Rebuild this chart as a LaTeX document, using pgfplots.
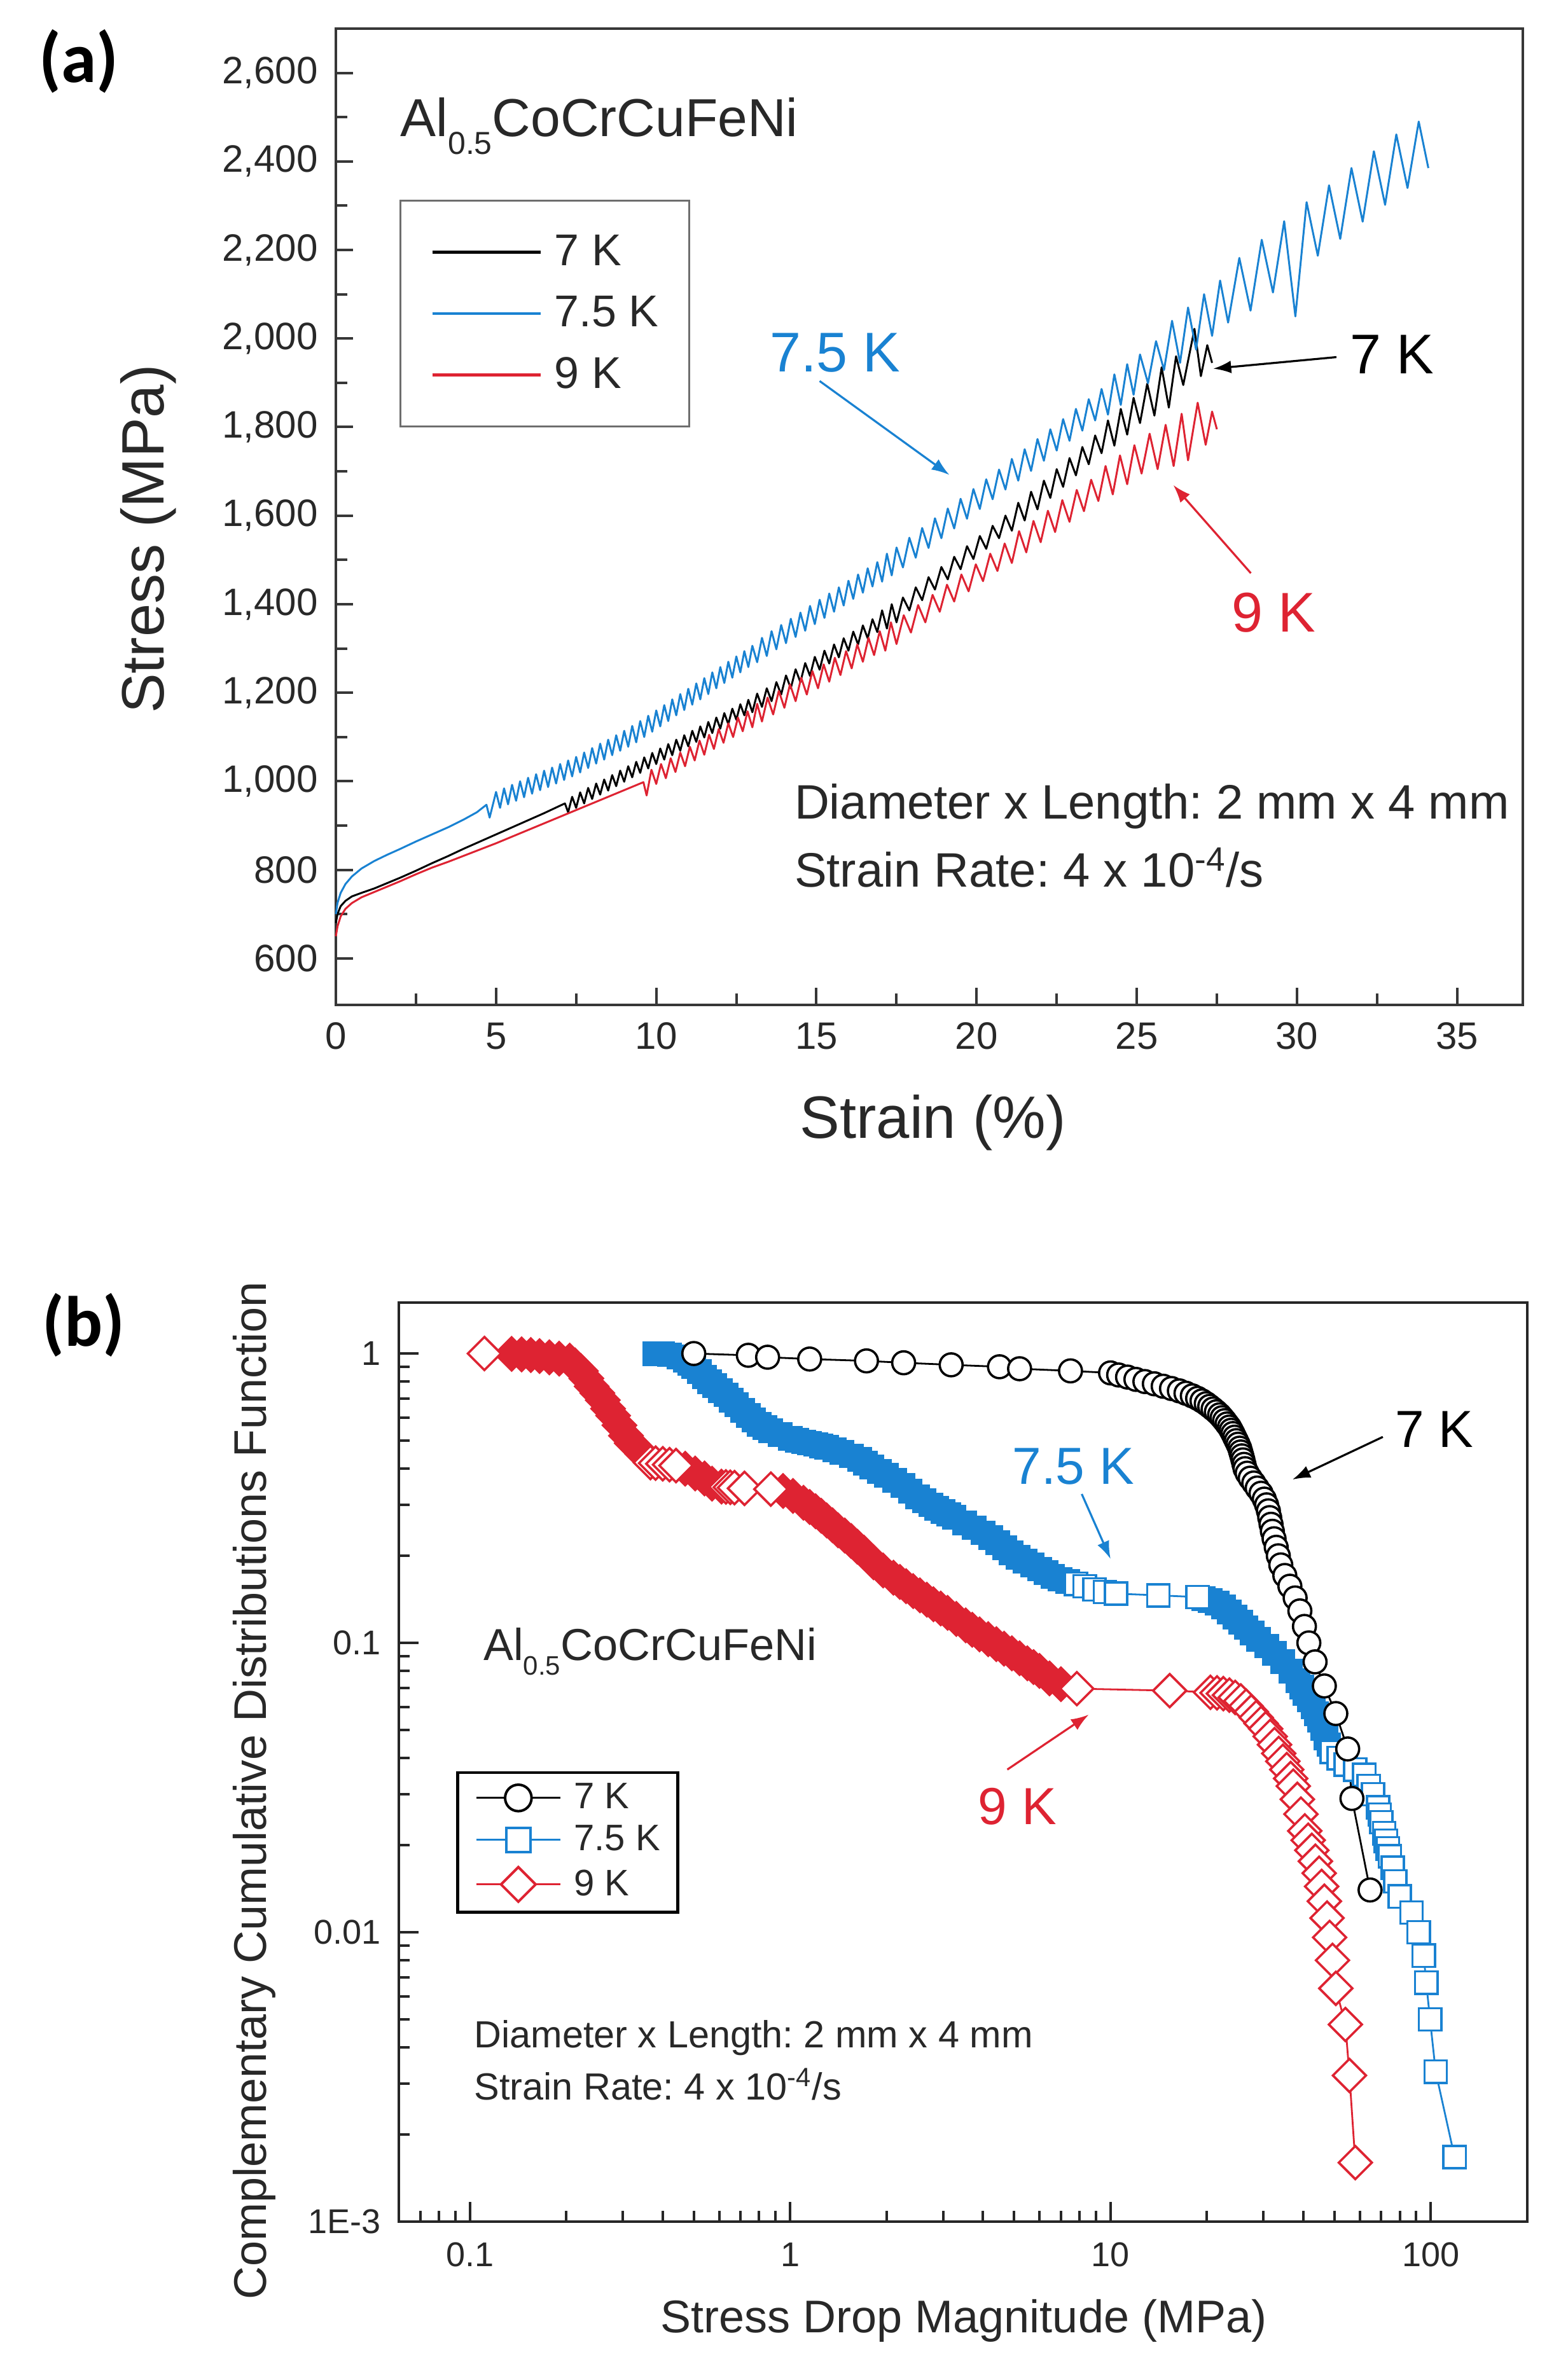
\documentclass[border=0pt]{standalone}
\usepackage{fontspec}
\setmainfont{Liberation Sans}
\newfontfamily\panelfont{Carlito}
\usepackage{pgfplots}
\pgfplotsset{compat=1.18}
\usepackage{pgfplotstable}
\usetikzlibrary{arrows.meta}
\definecolor{blue7}{RGB}{25,130,210}
\definecolor{red9}{RGB}{222,35,50}
\definecolor{axisgray}{RGB}{55,55,55}
\definecolor{textgray}{RGB}{40,40,40}
\definecolor{legendgray}{RGB}{110,110,110}

% ---------------- panel (a): stress-strain ----------------
\pgfplotstableread{
x y
0 700
0.05 725
0.15 748
0.3 768
0.5 785
0.8 803
1.2 820
1.6 834
2 847
2.5 864
3 880
3.5 896
4 914
4.4 930
4.7 947
4.8 918
5.0 976
5.125 940
5.25 984
5.375 948
5.5 992
5.625 956
5.75 1000
5.875 964
6.0 1008
6.125 972
6.25 1016
6.375 980
6.5 1024
6.625 987
6.75 1031
6.875 995
7.0 1039
7.125 1003
7.25 1047
7.375 1011
7.5 1055
7.625 1020
7.75 1065
7.875 1030
8.0 1075
8.125 1040
8.25 1085
8.375 1049
8.5 1094
8.625 1059
8.75 1104
8.875 1069
9.0 1114
9.125 1078
9.25 1125
9.375 1088
9.5 1136
9.625 1100
9.75 1148
9.875 1112
10.0 1160
10.125 1124
10.25 1172
10.375 1136
10.5 1185
10.625 1149
10.75 1197
10.875 1161
11.0 1209
11.125 1173
11.25 1221
11.375 1185
11.5 1233
11.625 1197
11.75 1246
11.875 1210
12.0 1258
12.125 1222
12.25 1270
12.375 1234
12.5 1282
12.625 1246
12.75 1294
12.875 1258
13.0 1306
13.15 1269
13.3 1324
13.45 1283
13.6 1339
13.75 1298
13.9 1353
14.05 1312
14.2 1367
14.35 1326
14.5 1381
14.65 1340
14.8 1396
14.95 1355
15.1 1410
15.25 1369
15.4 1424
15.55 1383
15.7 1438
15.85 1397
16.0 1453
16.15 1412
16.3 1467
16.45 1426
16.6 1481
16.75 1440
16.9 1495
17.05 1451
17.2 1514
17.35 1465
17.5 1528
17.7 1483
17.9 1550
18.1 1505
18.3 1572
18.5 1527
18.7 1594
18.9 1549
19.1 1616
19.3 1571
19.5 1638
19.7 1593
19.9 1660
20.1 1615
20.3 1682
20.5 1637
20.7 1704
20.9 1659
21.1 1728
21.3 1679
21.5 1750
21.7 1701
21.9 1773
22.1 1724
22.3 1795
22.5 1747
22.7 1818
22.9 1769
23.1 1841
23.3 1792
23.5 1863
23.7 1815
23.9 1886
24.1 1828
24.3 1919
24.5 1850
24.7 1942
24.9 1873
25.1 1964
25.35 1899
25.6 1994
25.85 1929
26.1 2040
26.35 1945
26.6 2070
26.85 1975
27.1 2100
27.35 2006
27.6 2131
27.85 2036
28.2 2182
28.55 2063
28.9 2223
29.25 2104
29.6 2265
29.95 2050
30.3 2308
30.65 2187
31.0 2346
31.35 2225
31.7 2385
32.05 2264
32.4 2423
32.75 2302
33.1 2461
33.45 2340
33.8 2490
34.1 2385
}\strainBlue

\pgfplotstableread{
x y
0 680
0.05 700
0.15 718
0.3 730
0.5 740
0.8 748
1.2 758
1.6 770
2 782
2.5 798
3 815
3.5 831
4 848
4.5 864
5 880
5.5 896
6 912
6.5 928
7 945
7.15 950
7.25 930
7.375 965
7.5 940
7.625 975
7.75 950
7.875 985
8.0 960
8.125 995
8.25 970
8.375 1004
8.5 979
8.625 1014
8.75 989
8.875 1024
9.0 999
9.125 1034
9.25 1009
9.375 1044
9.5 1019
9.625 1054
9.75 1029
9.875 1064
10.0 1039
10.125 1074
10.25 1049
10.375 1084
10.5 1059
10.625 1094
10.75 1069
10.875 1104
11.0 1079
11.125 1114
11.25 1089
11.375 1124
11.5 1099
11.625 1134
11.75 1109
11.875 1144
12.0 1119
12.125 1154
12.25 1129
12.375 1164
12.5 1139
12.625 1174
12.75 1149
12.875 1184
13.0 1156
13.15 1198
13.3 1168
13.45 1210
13.6 1181
13.75 1224
13.9 1196
14.05 1239
14.2 1210
14.35 1253
14.5 1224
14.65 1267
14.8 1238
14.95 1281
15.1 1252
15.25 1295
15.4 1266
15.55 1309
15.7 1280
15.85 1323
16.0 1295
16.15 1338
16.3 1309
16.45 1352
16.6 1323
16.75 1366
16.9 1337
17.05 1386
17.2 1345
17.35 1400
17.5 1359
17.7 1415
17.9 1386
18.1 1438
18.3 1409
18.5 1461
18.7 1433
18.9 1484
19.1 1456
19.3 1507
19.5 1479
19.7 1531
19.9 1502
20.1 1554
20.3 1525
20.5 1577
20.7 1549
20.9 1600
21.1 1566
21.3 1629
21.5 1589
21.7 1654
21.9 1614
22.1 1679
22.3 1640
22.5 1705
22.7 1665
22.9 1730
23.1 1691
23.3 1755
23.5 1716
23.7 1781
23.9 1741
24.1 1815
24.3 1758
24.5 1841
24.7 1783
24.9 1866
25.1 1809
25.325 1898
25.55 1826
25.775 1935
26.0 1844
26.225 1960
26.45 1895
26.8 2022
27.0 1915
27.2 1985
27.35 1945
}\strainBlack

\pgfplotstableread{
x y
0 650
0.05 672
0.15 695
0.3 712
0.5 725
0.8 738
1.2 750
1.6 762
2 774
2.5 790
3 805
3.5 818
4 832
4.5 846
5 860
5.5 875
6 890
6.5 905
7 920
7.5 935
8 950
8.5 965
9 980
9.5 995
9.6 998
9.7 968
9.85 1026
10.0 994
10.15 1039
10.3 1007
10.45 1052
10.6 1021
10.75 1065
10.9 1034
11.05 1078
11.2 1047
11.35 1092
11.5 1060
11.65 1105
11.8 1073
11.95 1118
12.1 1087
12.25 1131
12.4 1100
12.55 1144
12.7 1113
12.85 1158
13.0 1122
13.15 1175
13.3 1135
13.475 1189
13.65 1151
13.825 1204
14.0 1166
14.175 1219
14.35 1181
14.525 1234
14.7 1196
14.875 1249
15.05 1210
15.225 1264
15.4 1225
15.575 1279
15.75 1240
15.925 1294
16.1 1255
16.275 1309
16.45 1270
16.625 1324
16.8 1285
16.975 1339
17.15 1295
17.325 1359
17.5 1310
17.725 1375
17.95 1336
18.175 1398
18.4 1359
18.625 1421
18.85 1383
19.075 1444
19.3 1406
19.525 1467
19.75 1429
19.975 1490
20.2 1452
20.425 1514
20.65 1475
20.875 1537
21.1 1493
21.325 1565
21.55 1517
21.775 1588
22.0 1540
22.225 1611
22.45 1563
22.675 1635
22.9 1586
23.125 1658
23.35 1610
23.575 1681
23.8 1633
24.025 1712
24.25 1648
24.475 1736
24.7 1671
24.925 1759
25.15 1695
25.4 1785
25.65 1705
25.9 1805
26.15 1712
26.4 1830
26.6 1725
26.9 1855
27.15 1760
27.35 1835
27.5 1795
}\strainRed

% ---------------- panel (b): CCDF (d=1: dense band) ----------------
\pgfplotstableread{
x y
0.50 1.000
0.74 0.986
0.85 0.971
1.15 0.957
1.73 0.943
2.26 0.929
3.18 0.914
4.5 0.900
5.2 0.886
7.5 0.871
10.0 0.857
10.6 0.843
11.3 0.829
12.0 0.814
12.8 0.800
13.7 0.786
14.6 0.771
15.5 0.757
16.4 0.743
17.2 0.729
18.0 0.714
18.7 0.700
19.3 0.686
19.9 0.671
20.4 0.657
20.9 0.643
21.4 0.629
21.9 0.614
22.3 0.600
22.7 0.586
23.1 0.571
23.5 0.557
23.8 0.543
24.1 0.529
24.4 0.514
24.7 0.500
25.0 0.486
25.3 0.471
25.5 0.457
25.7 0.443
25.9 0.429
26.1 0.414
26.3 0.400
26.7 0.386
27.3 0.371
28.0 0.357
28.7 0.343
29.5 0.329
30.2 0.314
30.7 0.300
31.1 0.286
31.4 0.271
31.7 0.257
32.0 0.243
32.4 0.229
32.9 0.214
33.4 0.200
34.0 0.186
35.0 0.171
36.3 0.157
37.7 0.143
39.0 0.129
40.3 0.114
41.6 0.100
43.5 0.086
46.5 0.071
50.5 0.057
55.0 0.043
56.7 0.029
64.6 0.014
}\ccdfBlack

\pgfplotstableread{
x y d
0.378 1.000 1
0.400 0.998 1
0.420 0.990 1
0.450 0.975 1
0.470 0.950 1
0.485 0.925 1
0.500 0.900 1
0.520 0.865 1
0.540 0.830 1
0.560 0.800 1
0.580 0.775 1
0.605 0.745 1
0.630 0.720 1
0.655 0.690 1
0.680 0.665 1
0.710 0.635 1
0.740 0.610 1
0.770 0.590 1
0.800 0.570 1
0.835 0.555 1
0.870 0.540 1
0.930 0.525 1
1.000 0.510 1
1.050 0.502 1
1.100 0.495 1
1.150 0.490 1
1.200 0.485 1
1.250 0.480 1
1.300 0.475 1
1.375 0.465 1
1.450 0.455 1
1.550 0.443 1
1.650 0.430 1
1.720 0.418 1
1.800 0.405 1
1.900 0.392 1
2.000 0.380 1
2.120 0.365 1
2.250 0.350 1
2.370 0.335 1
2.500 0.320 1
2.620 0.310 1
2.750 0.300 1
2.870 0.292 1
3.000 0.285 1
3.120 0.278 1
3.250 0.272 1
3.500 0.260 1
3.750 0.250 1
4.000 0.240 1
4.220 0.231 1
4.450 0.222 1
4.670 0.213 1
4.900 0.205 1
5.150 0.198 1
5.400 0.192 1
5.700 0.186 1
6.000 0.180 1
6.300 0.175 1
6.600 0.170 1
6.950 0.166 1
7.360 0.163 1
7.8 0.160 0
8.3 0.157 0
8.9 0.153 0
9.6 0.150 0
10.4 0.148 0
14.1 0.146 0
18.7 0.144 0
19.5 0.142 1
20.5 0.140 1
21.5 0.137 1
22.5 0.133 1
23.5 0.128 1
24.5 0.123 1
25.5 0.118 1
26.5 0.113 1
27.7 0.108 1
29.0 0.103 1
30.8 0.0975 1
32.5 0.092 1
34.5 0.086 1
36.5 0.080 1
38.5 0.074 1
39.5 0.0705 1
40.5 0.067 1
41.7 0.0635 1
43.0 0.060 1
44.0 0.057 1
45.0 0.054 1
46.0 0.0505 1
47.0 0.047 1
48.0 0.0445 1
49.0 0.042 0
51.5 0.040 0
54.3 0.038 0
58.0 0.0365 0
62.0 0.035 0
64.0 0.032 0
66.0 0.030 0
68.5 0.027 0
69.2 0.0255 0
70.0 0.024 0
71.5 0.022 0
72.4 0.0207 0
73.4 0.0195 0
74.5 0.0183 0
76.0 0.0167 0
77.5 0.0150 0
80.0 0.0133 0
87.0 0.0117 0
91.6 0.0100 0
95.0 0.0083 0
96.7 0.0067 0
99.4 0.0050 0
103.5 0.0033 0
118.6 0.00167 0
}\ccdfBlue

\pgfplotstableread{
x y d
0.111 1.000 0
0.135 0.997 1
0.145 0.993 1
0.155 0.988 1
0.165 0.980 1
0.177 0.970 1
0.190 0.960 1
0.205 0.945 1
0.213 0.910 1
0.222 0.870 1
0.231 0.820 1
0.240 0.770 1
0.250 0.730 1
0.260 0.690 1
0.270 0.645 1
0.280 0.610 1
0.293 0.565 1
0.307 0.520 1
0.320 0.490 1
0.330 0.475 1
0.345 0.450 1
0.366 0.420 0
0.380 0.418 0
0.400 0.416 0
0.420 0.413 0
0.440 0.410 0
0.470 0.400 1
0.505 0.385 1
0.540 0.370 1
0.570 0.355 1
0.610 0.347 1
0.630 0.346 0
0.650 0.345 0
0.670 0.344 0
0.720 0.342 0
0.870 0.340 0
0.950 0.335 1
1.020 0.322 1
1.100 0.305 1
1.150 0.295 1
1.200 0.285 1
1.250 0.275 1
1.300 0.265 1
1.355 0.255 1
1.410 0.245 1
1.480 0.235 1
1.550 0.225 1
1.620 0.215 1
1.700 0.205 1
1.820 0.190 1
1.950 0.178 1
2.100 0.168 1
2.200 0.1625 1
2.300 0.157 1
2.420 0.151 1
2.540 0.146 1
2.670 0.141 1
2.800 0.136 1
2.950 0.1315 1
3.100 0.127 1
3.300 0.121 1
3.530 0.115 1
3.700 0.111 1
3.900 0.107 1
4.150 0.103 1
4.400 0.099 1
4.650 0.0955 1
4.920 0.092 1
5.200 0.0885 1
5.500 0.085 1
5.750 0.0825 1
6.000 0.080 1
6.450 0.0754 1
7.000 0.072 1
7.850 0.0695 0
15.30 0.0684 0
20.50 0.0675 0
21.50 0.0672 0
22.50 0.0668 0
23.50 0.0660 0
24.50 0.0648 0
25.50 0.0630 0
26.50 0.0605 0
27.50 0.0578 0
28.50 0.0552 0
29.50 0.0527 0
30.50 0.0505 0
31.50 0.0475 0
32.50 0.0445 0
33.50 0.0415 0
34.50 0.0390 0
35.50 0.0365 0
36.50 0.0340 0
37.20 0.0320 0
38.30 0.0288 0
39.30 0.0256 0
40.40 0.0224 0
41.40 0.0208 0
42.50 0.0192 0
43.60 0.0176 0
44.80 0.0160 0
45.60 0.0144 0
46.50 0.0128 0
47.40 0.0112 0
48.30 0.0096 0
49.30 0.0080 0
50.50 0.0064 0
54.10 0.0048 0
55.70 0.0032 0
58.10 0.0016 0
}\ccdfRed

\begin{document}
\frenchspacing
\begin{tikzpicture}
\useasboundingbox (0,0) rectangle (610.5pt,935.5pt);
\fill[white] (0,0) rectangle (610.5pt,935.5pt);

% ================= (a) =================
\begin{axis}[
  at={(132pt,540.5pt)}, anchor=south west,
  width=466.5pt, height=383.75pt, scale only axis,
  clip=false,
  xmin=0, xmax=37.05, ymin=495, ymax=2700,
  xtick={0,5,...,35}, ytick={600,800,...,2600},
  minor x tick num=1, minor y tick num=1,
  xtick pos=bottom, ytick pos=left, tick align=inside,
  major tick length=6.75pt, minor tick length=4.5pt,
  axis line style={line width=1.2pt, color=axisgray},
  tick style={line width=1pt, color=axisgray},
  scaled y ticks=false,
  /pgf/number format/assume math mode=true,
  /pgf/number format/fixed,
  /pgf/number format/1000 sep={,},
  tick label style={font=\fontsize{15}{18}\selectfont, text=textgray},
  xticklabel style={yshift=-3.5pt},
  yticklabel style={xshift=-3.6pt},
  xlabel={Strain (\%)}, ylabel={Stress (MPa)},
  xlabel style={at={(axis description cs:0.503,-0.1205)}, anchor=center, font=\fontsize{23.5}{28}\selectfont, text=textgray},
  ylabel style={at={(axis description cs:-0.158,0.477)}, anchor=center, font=\fontsize{23.5}{28}\selectfont, text=textgray},
  legend style={at={(0.176,0.708)}, anchor=center, draw=legendgray, line width=0.75pt, fill=white,
    inner xsep=12pt, inner ysep=13.5pt, row sep=10.5pt, column sep=5pt,
    font=\fontsize{17.5}{20}\selectfont, nodes={inner sep=0pt, text=textgray}},
  legend cell align=left,
  legend image code/.code={\draw[#1, line width=1.1pt] (0pt,0pt) -- (42.5pt,0pt);},
]
\addplot[black, line width=0.75pt, line join=round] table[x=x,y=y] \strainBlack;
\addlegendentry{7 K}
\addplot[blue7, line width=0.75pt, line join=round] table[x=x,y=y] \strainBlue;
\addlegendentry{7.5 K}
\addplot[red9, line width=0.75pt, line join=round] table[x=x,y=y] \strainRed;
\addlegendentry{9 K}

\node[inner sep=0pt, anchor=base west, font=\fontsize{21}{25}\selectfont, text=textgray] at (axis cs:2.0,2456)
  {Al\raisebox{-0.33em}{\fontsize{12.5}{13}\selectfont 0.5}CoCrCuFeNi};
\node[inner sep=0pt, anchor=base west, font=\fontsize{22}{26}\selectfont, text=blue7] at (axis cs:13.53,1925) {7.5 K};
\draw[blue7, line width=0.8pt, -{Latex[length=7pt,width=5pt]}] (axis cs:15.10,1904) -- (axis cs:19.15,1692);
\node[inner sep=0pt, anchor=base west, font=\fontsize{22}{26}\selectfont, text=black] at (axis cs:31.64,1921) {7 K};
\draw[black, line width=0.8pt, -{Latex[length=7pt,width=5pt]}] (axis cs:31.23,1958) -- (axis cs:27.39,1932);
\node[inner sep=0pt, anchor=base west, font=\fontsize{22}{26}\selectfont, text=red9] at (axis cs:27.95,1338) {9 K};
\draw[red9, line width=0.8pt, -{Latex[length=7pt,width=5pt]}] (axis cs:28.56,1470) -- (axis cs:26.14,1669);
\node[inner sep=0pt, anchor=base west, font=\fontsize{19}{23}\selectfont, text=textgray] at (axis cs:14.3,915) {Diameter x Length: 2 mm x 4 mm};
\node[inner sep=0pt, anchor=base west, font=\fontsize{19}{23}\selectfont, text=textgray] at (axis cs:14.3,761) {Strain Rate: 4 x 10\textsuperscript{-4}/s};
\end{axis}

% ================= (b) =================
\begin{axis}[
  at={(156.75pt,62.25pt)}, anchor=south west,
  width=443.5pt, height=361.25pt, scale only axis,
  clip=false,
  xmode=log, ymode=log,
  xmin=0.06, xmax=200, ymin=0.001, ymax=1.5,
  xtick={0.1,1,10,100}, xticklabels={0.1,1,10,100},
  ytick={0.001,0.01,0.1,1}, yticklabels={1E-3,0.01,0.1,1},
  minor xtick={0.07,0.08,0.09,0.2,0.3,0.4,0.5,0.6,0.7,0.8,0.9,2,3,4,5,6,7,8,9,20,30,40,50,60,70,80,90},
  minor ytick={0.002,0.003,0.004,0.005,0.006,0.007,0.008,0.009,0.02,0.03,0.04,0.05,0.06,0.07,0.08,0.09,0.2,0.3,0.4,0.5,0.6,0.7,0.8,0.9},
  xtick pos=bottom, ytick pos=left, tick align=inside,
  major tick length=7.8pt, minor tick length=4.2pt,
  axis line style={line width=1.2pt, color=black!85},
  tick style={line width=1pt, color=black!85},
  tick label style={font=\fontsize{13.5}{16}\selectfont, text=textgray},
  xticklabel style={yshift=-4.7pt},
  yticklabel style={xshift=-3.5pt},
  xlabel={Stress Drop Magnitude (MPa)},
  ylabel={Complementary Cumulative Distributions Function},
  xlabel style={at={(axis description cs:0.5006,-0.108)}, anchor=center, font=\fontsize{18}{22}\selectfont, text=textgray},
  ylabel style={at={(axis description cs:-0.128,0.469)}, anchor=center, font=\fontsize{18}{22}\selectfont, text=textgray},
  legend style={at={(0.1497,0.4125)}, anchor=center, draw=black, line width=1.2pt, fill=white,
    inner xsep=7pt, inner ysep=4.2pt, row sep=5pt, column sep=5pt,
    font=\fontsize{14.5}{17}\selectfont, nodes={inner sep=0pt, text=textgray}},
  legend cell align=left,
  legend image code/.code={\draw[mark repeat=2,mark phase=2,#1] plot coordinates {(0pt,0pt) (16.5pt,0pt) (33pt,0pt)};},
]
% blue 7.5 K
\addplot[blue7, line width=0.7pt, forget plot] table[x=x,y=y] \ccdfBlue;
\addplot[blue7, only marks, mark=square*, mark size=4.4pt, mark options={line width=0.9pt, fill=blue7}, forget plot,
  restrict expr to domain={\thisrow{d}}{0.5:1.5}] table[x=x,y=y] \ccdfBlue;
\addplot[blue7, only marks, mark=square*, mark size=4.4pt, mark options={line width=0.9pt, fill=white}, forget plot,
  restrict expr to domain={\thisrow{d}}{-0.5:0.5}] table[x=x,y=y] \ccdfBlue;
% red 9 K
\addplot[red9, line width=0.7pt, forget plot] table[x=x,y=y] \ccdfRed;
\addplot[red9, only marks, mark=square*, mark size=4.6pt, mark options={rotate=45, line width=0.9pt, fill=red9}, forget plot,
  restrict expr to domain={\thisrow{d}}{0.5:1.5}] table[x=x,y=y] \ccdfRed;
\addplot[red9, only marks, mark=square*, mark size=4.6pt, mark options={rotate=45, line width=0.9pt, fill=white}, forget plot,
  restrict expr to domain={\thisrow{d}}{-0.5:0.5}] table[x=x,y=y] \ccdfRed;
% black 7 K
\addplot[black, line width=0.7pt, mark=*, mark size=4.5pt, mark options={line width=0.9pt, fill=white}, forget plot] table[x=x,y=y] \ccdfBlack;

\addlegendimage{black, line width=0.8pt, mark=*, mark size=5.2pt, mark options={line width=1pt, fill=white}}
\addlegendentry{7 K}
\addlegendimage{blue7, line width=0.8pt, mark=square*, mark size=4.8pt, mark options={line width=1pt, fill=white}}
\addlegendentry{7.5 K}
\addlegendimage{red9, line width=0.8pt, mark=square*, mark size=4.8pt, mark options={rotate=45, line width=1pt, fill=white}}
\addlegendentry{9 K}

\node[inner sep=0pt, anchor=base west, font=\fontsize{17.6}{21}\selectfont, text=textgray] at (axis cs:0.110,0.0872)
  {Al\raisebox{-0.33em}{\fontsize{10.5}{11}\selectfont 0.5}CoCrCuFeNi};
\node[inner sep=0pt, anchor=base west, font=\fontsize{20.5}{24}\selectfont, text=black] at (axis cs:77.1,0.475) {7 K};
\draw[black, line width=0.8pt, -{Latex[length=7pt,width=5pt]}] (axis cs:70.8,0.515) -- (axis cs:37.0,0.367);
\node[inner sep=0pt, anchor=base west, font=\fontsize{20.5}{24}\selectfont, text=blue7] at (axis cs:4.92,0.354) {7.5 K};
\draw[blue7, line width=0.8pt, -{Latex[length=7pt,width=5pt]}] (axis cs:8.13,0.327) -- (axis cs:10.0,0.195);
\node[inner sep=0pt, anchor=base west, font=\fontsize{20.5}{24}\selectfont, text=red9] at (axis cs:3.85,0.0236) {9 K};
\draw[red9, line width=0.8pt, -{Latex[length=7pt,width=5pt]}] (axis cs:4.76,0.0365) -- (axis cs:8.55,0.0565);
\node[inner sep=0pt, anchor=base west, font=\fontsize{14.85}{18}\selectfont, text=textgray] at (axis cs:0.1028,0.0040) {Diameter x Length: 2 mm x 4 mm};
\node[inner sep=0pt, anchor=base west, font=\fontsize{14.85}{18}\selectfont, text=textgray] at (axis cs:0.1028,0.00264) {Strain Rate: 4 x 10\textsuperscript{-4}/s};
\end{axis}

\node[font=\panelfont\bfseries\fontsize{28}{32}\selectfont] at (31pt,911.5pt) {(a)};
\node[font=\panelfont\bfseries\fontsize{28}{32}\selectfont] at (32.75pt,414.75pt) {(b)};
\end{tikzpicture}
\end{document}
